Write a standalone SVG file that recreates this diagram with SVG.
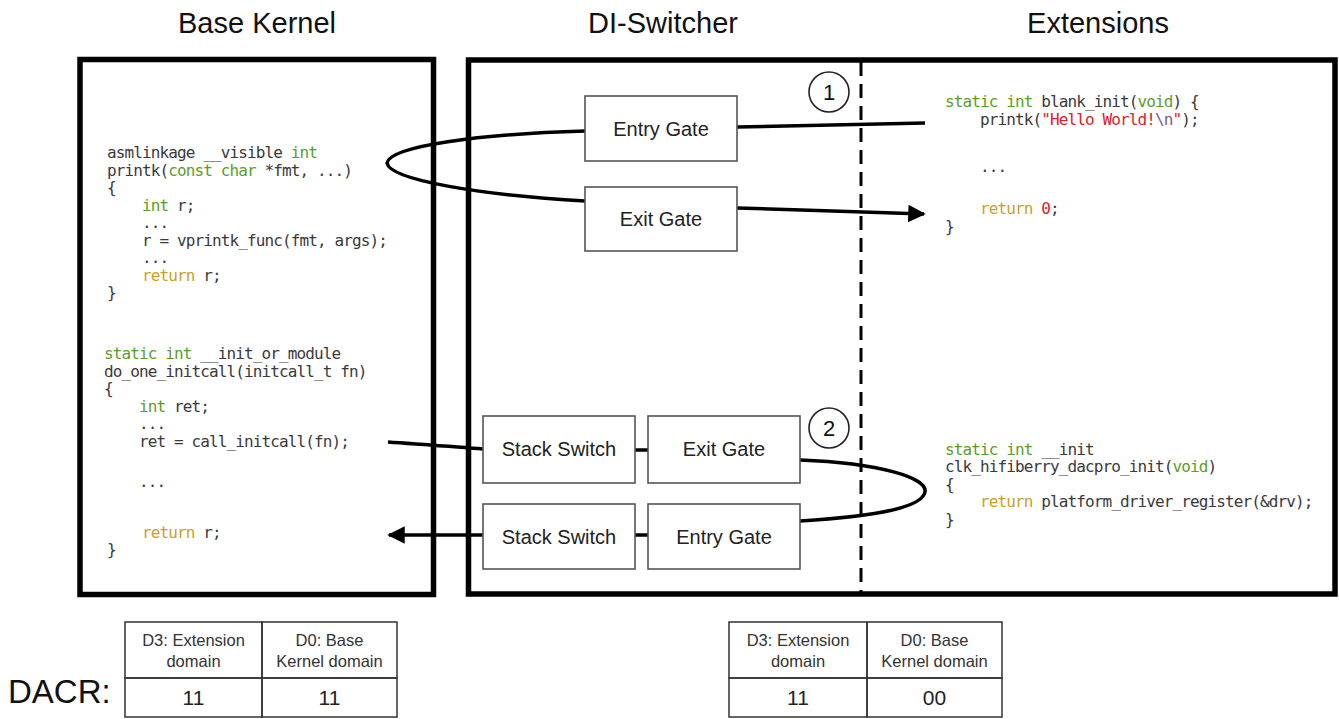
<svg xmlns="http://www.w3.org/2000/svg" width="1339" height="719" viewBox="0 0 1339 719">
<defs>
<style>
.title{font-family:"Liberation Sans",Arial,sans-serif;font-size:29px;fill:#111;text-anchor:middle}
.frame{fill:none;stroke:#000;stroke-width:5.5}
.gate{fill:#fff;stroke:#555;stroke-width:1.6}
.glabel{font-family:"Liberation Sans",Arial,sans-serif;font-size:20px;fill:#222;text-anchor:middle}
.code{font-family:"DejaVu Sans Mono",monospace;font-size:16px;letter-spacing:-0.88px;fill:#3a3a3a}
.kw{fill:#5a9e2a}
.rt{fill:#c9a227}
.st{fill:#e0202a}
.esc{fill:#80608a}
.conn{fill:none;stroke:#000;stroke-width:3.5}
.num{font-family:"Liberation Sans",Arial,sans-serif;font-size:22px;fill:#111;text-anchor:middle}
.tcell{fill:none;stroke:#333;stroke-width:1.5}
.ttext{font-family:"Liberation Sans",Arial,sans-serif;font-size:16.5px;fill:#333;text-anchor:middle}
.tval{font-family:"Liberation Sans",Arial,sans-serif;font-size:21px;fill:#222;text-anchor:middle}
</style>
<marker id="arrow" viewBox="0 0 10 10" refX="9" refY="5" markerWidth="5.5" markerHeight="5" markerUnits="strokeWidth" orient="auto">
<path d="M0,0 L10,5 L0,10 z" fill="#000"/>
</marker>
</defs>
<rect width="1339" height="719" fill="#fff"/>

<g id="titles">
<text class="title" x="257" y="33">Base Kernel</text>
<text class="title" x="663" y="33">DI-Switcher</text>
<text class="title" x="1098" y="33">Extensions</text>
</g>

<g id="base-kernel">
<rect class="frame" x="80" y="59.5" width="353.5" height="535"/>
<text class="code" x="107" y="158">asmlinkage __visible <tspan class="kw">int</tspan></text>
<text class="code" x="107" y="175.5">printk(<tspan class="kw">const char</tspan> *fmt, ...)</text>
<text class="code" x="107" y="193">{</text>
<text class="code" x="142" y="210.5"><tspan class="kw">int</tspan> r;</text>
<text class="code" x="142" y="228">...</text>
<text class="code" x="142" y="245.5">r = vprintk_func(fmt, args);</text>
<text class="code" x="142" y="263">...</text>
<text class="code" x="142" y="280.5"><tspan class="rt">return</tspan> r;</text>
<text class="code" x="107" y="298">}</text>

<text class="code" x="104" y="359"><tspan class="kw">static int</tspan> __init_or_module</text>
<text class="code" x="104" y="376.5">do_one_initcall(initcall_t fn)</text>
<text class="code" x="104" y="394">{</text>
<text class="code" x="139" y="411.5"><tspan class="kw">int</tspan> ret;</text>
<text class="code" x="139" y="429">...</text>
<text class="code" x="139" y="446.5">ret = call_initcall(fn);</text>
<text class="code" x="139" y="487">...</text>
<text class="code" x="142" y="538"><tspan class="rt">return</tspan> r;</text>
<text class="code" x="107" y="555">}</text>
</g>

<g id="di-switcher">
<rect class="frame" x="468.5" y="60" width="866.5" height="534"/>
<line x1="861" y1="62" x2="861" y2="592" stroke="#000" stroke-width="3" stroke-dasharray="14 8"/>
</g>

<g id="extensions">
<text class="code" x="945" y="107"><tspan class="kw">static int</tspan> blank_init(<tspan class="kw">void</tspan>) {</text>
<text class="code" x="980" y="125">printk(<tspan class="st">"Hello World!</tspan><tspan class="esc">\n</tspan><tspan class="st">"</tspan>);</text>
<text class="code" x="980" y="172">...</text>
<text class="code" x="980" y="214"><tspan class="rt">return</tspan> <tspan class="st">0</tspan>;</text>
<text class="code" x="945" y="232">}</text>

<text class="code" x="945" y="455"><tspan class="kw">static int</tspan> __init</text>
<text class="code" x="945" y="472">clk_hifiberry_dacpro_init(<tspan class="kw">void</tspan>)</text>
<text class="code" x="945" y="490">{</text>
<text class="code" x="980" y="507"><tspan class="rt">return</tspan> platform_driver_register(&amp;drv);</text>
<text class="code" x="945" y="525">}</text>
</g>

<g id="connectors">
<path class="conn" d="M737,127 L925,123"/>
<path class="conn" d="M585,131 C480,134 390,146 387,163 C390,180 480,195 585,201"/>
<path class="conn" d="M737,208 C800,210 860,212 924,214" marker-end="url(#arrow)"/>
<path class="conn" d="M388,442 C430,445 460,447 483,449"/>
<line class="conn" x1="635" y1="450" x2="648" y2="450"/>
<path class="conn" d="M800,460 C880,463 928,478 925,492 C922,507 880,516 800,521"/>
<line class="conn" x1="635" y1="535" x2="648" y2="535"/>
<path class="conn" d="M483,535 L389,535" marker-end="url(#arrow)"/>
</g>

<g id="entry-gate-1"><rect class="gate" x="585" y="96" width="152" height="65"/><text class="glabel" x="661" y="135.5">Entry Gate</text></g>
<g id="exit-gate-1"><rect class="gate" x="585" y="187" width="152" height="64"/><text class="glabel" x="661" y="226">Exit Gate</text></g>
<g id="stack-switch-1"><rect class="gate" x="483" y="416" width="152" height="67"/><text class="glabel" x="559" y="456">Stack Switch</text></g>
<g id="exit-gate-2"><rect class="gate" x="648" y="416" width="152" height="67"/><text class="glabel" x="724" y="456">Exit Gate</text></g>
<g id="stack-switch-2"><rect class="gate" x="483" y="504" width="152" height="65"/><text class="glabel" x="559" y="543.5">Stack Switch</text></g>
<g id="entry-gate-2"><rect class="gate" x="648" y="504" width="152" height="65"/><text class="glabel" x="724" y="543.5">Entry Gate</text></g>

<g id="step-1"><circle cx="829" cy="92" r="20" fill="#fff" stroke="#222" stroke-width="1.6"/><text class="num" x="829" y="100">1</text></g>
<g id="step-2"><circle cx="829" cy="428" r="20" fill="#fff" stroke="#222" stroke-width="1.6"/><text class="num" x="829" y="436">2</text></g>

<g id="dacr">
<text x="8" y="703" font-family="Liberation Sans, Arial, sans-serif" font-size="33" fill="#111">DACR:</text>
</g>

<g id="table-1">
<rect class="tcell" x="125" y="622" width="137" height="56"/>
<rect class="tcell" x="262" y="622" width="135" height="56"/>
<rect class="tcell" x="125" y="678" width="137" height="39"/>
<rect class="tcell" x="262" y="678" width="135" height="39"/>
<text class="ttext" x="193.5" y="646">D3: Extension</text>
<text class="ttext" x="193.5" y="667">domain</text>
<text class="ttext" x="329.5" y="646">D0: Base</text>
<text class="ttext" x="329.5" y="667">Kernel domain</text>
<text class="tval" x="193.5" y="705">11</text>
<text class="tval" x="329.5" y="705">11</text>
</g>

<g id="table-2">
<rect class="tcell" x="729" y="622" width="138" height="56"/>
<rect class="tcell" x="867" y="622" width="135" height="56"/>
<rect class="tcell" x="729" y="678" width="138" height="39"/>
<rect class="tcell" x="867" y="678" width="135" height="39"/>
<text class="ttext" x="798" y="646">D3: Extension</text>
<text class="ttext" x="798" y="667">domain</text>
<text class="ttext" x="934.5" y="646">D0: Base</text>
<text class="ttext" x="934.5" y="667">Kernel domain</text>
<text class="tval" x="798" y="705">11</text>
<text class="tval" x="934.5" y="705">00</text>
</g>
</svg>
